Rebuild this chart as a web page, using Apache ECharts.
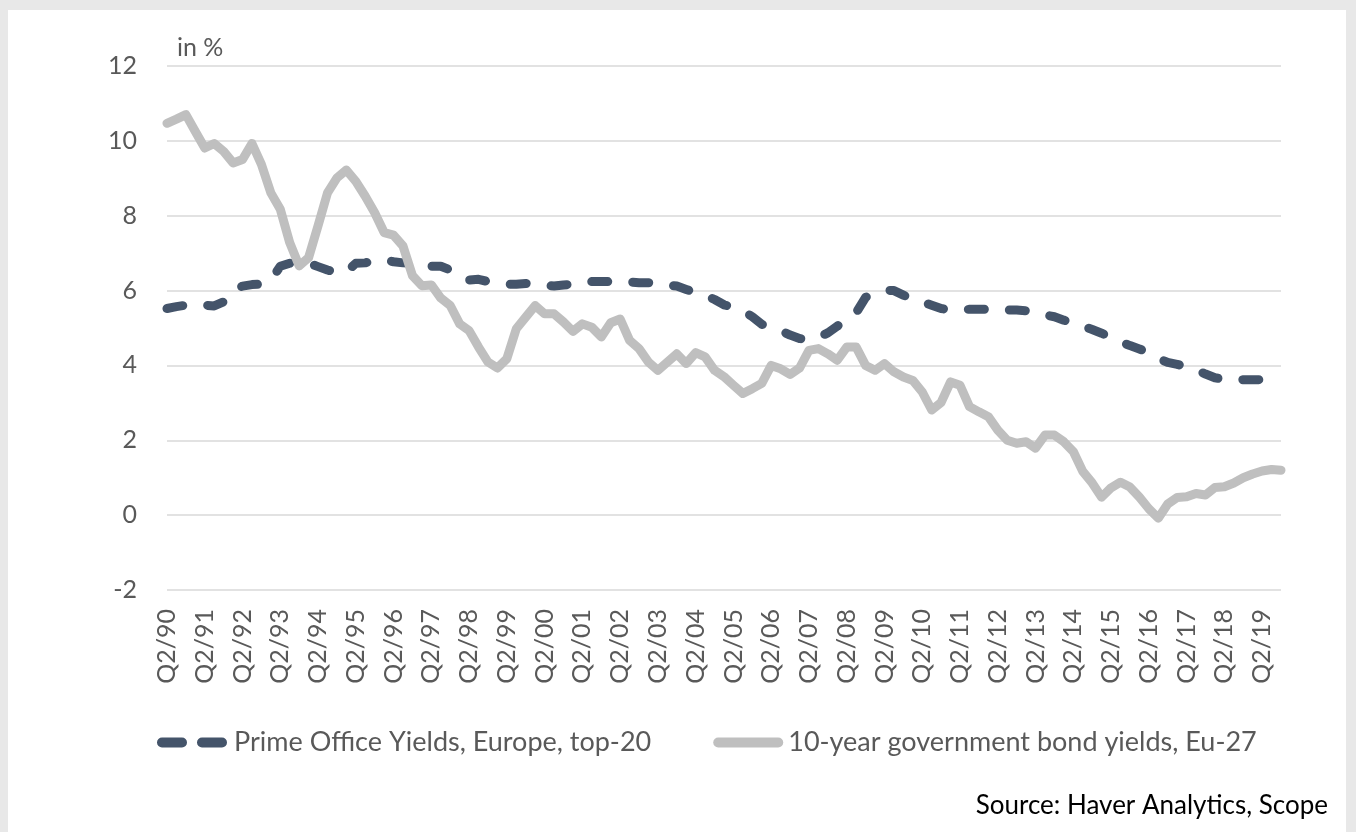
<!DOCTYPE html>
<html>
<head>
<meta charset="utf-8">
<script src="https://cdn.jsdelivr.net/npm/echarts@6/dist/echarts.min.js"></script>
<style>
html,body{margin:0;padding:0;background:#fff;}
#chart{width:1356px;height:832px;}
</style>
</head>
<body>
<div id="chart"></div>
<script>
// Quarterly categories Q2/90 .. Q4/19
const startYear = 1990, startQuarter = 2, nPoints = 119;
const categories = [];
for (let k = 0; k < nPoints; k++) {
  const q = (startQuarter - 1 + k) % 4 + 1;
  const y = startYear + Math.floor((startQuarter - 1 + k) / 4);
  categories.push('Q' + q + '/' + String(y % 100).padStart(2, '0'));
}

const yTicks = [-2, 0, 2, 4, 6, 8, 10, 12];

const primeOffice = [
  5.52,5.57,5.61,5.60,5.61,5.59,5.70,6.00,6.12,6.16,
  6.17,6.28,6.65,6.73,6.73,6.73,6.64,6.55,6.48,6.50,
  6.73,6.74,6.80,6.82,6.77,6.74,6.73,6.71,6.65,6.65,
  6.55,6.39,6.28,6.30,6.24,6.19,6.17,6.17,6.19,6.17,
  6.14,6.12,6.15,6.17,6.22,6.24,6.24,6.24,6.24,6.23,
  6.21,6.21,6.19,6.15,6.12,6.03,5.94,5.88,5.76,5.62,
  5.55,5.46,5.30,5.10,5.01,4.93,4.81,4.72,4.69,4.75,
  4.87,5.05,5.21,5.41,5.82,5.94,6.01,6.00,5.88,5.76,
  5.70,5.61,5.52,5.48,5.48,5.50,5.50,5.50,5.50,5.48,
  5.48,5.46,5.39,5.35,5.30,5.21,5.14,5.05,4.96,4.86,
  4.75,4.63,4.53,4.44,4.34,4.19,4.08,4.03,3.96,3.88,
  3.77,3.67,3.63,3.61,3.62,3.62,3.62,3.62,3.62
];

const govBond = [
  10.47,10.58,10.70,10.25,9.81,9.93,9.72,9.41,9.50,9.93,
  9.37,8.61,8.17,7.28,6.66,6.88,7.73,8.61,9.01,9.22,
  8.92,8.52,8.08,7.55,7.48,7.19,6.40,6.13,6.15,5.80,
  5.60,5.11,4.93,4.49,4.09,3.93,4.18,4.98,5.29,5.60,
  5.38,5.38,5.16,4.91,5.11,5.02,4.76,5.14,5.24,4.67,
  4.45,4.09,3.87,4.09,4.31,4.05,4.34,4.23,3.87,3.70,
  3.47,3.25,3.38,3.52,4.00,3.91,3.76,3.93,4.40,4.45,
  4.31,4.14,4.49,4.49,4.00,3.87,4.05,3.83,3.69,3.60,
  3.29,2.81,3.01,3.56,3.47,2.90,2.76,2.63,2.27,2.00,
  1.92,1.96,1.79,2.14,2.14,1.96,1.70,1.17,0.86,0.48,
  0.73,0.88,0.75,0.48,0.17,-0.08,0.30,0.47,0.49,0.58,
  0.54,0.74,0.76,0.86,1.00,1.10,1.18,1.22,1.20
];

const seriesNames = ['Prime Office Yields, Europe, top-20', '10-year government bond yields, Eu-27'];
const FONT = 'Lato, "Open Sans", sans-serif';
const TXT = '#595959';
const DARK = '#44546A';
const GREY = '#BFBFBF';

const dashIcon = 'path://M5,0 H25 A5,5 0 0 1 25,10 H5 A5,5 0 0 1 5,0 Z M45,0 H65 A5,5 0 0 1 65,10 H45 A5,5 0 0 1 45,0 Z';
const solidIcon = 'path://M5,0 H65 A5,5 0 0 1 65,10 H5 A5,5 0 0 1 5,0 Z';

const chart = echarts.init(document.getElementById('chart'));
chart.setOption({
  backgroundColor: '#ffffff',
  animation: false,
  grid: { left: 167, right: 75, top: 66, bottom: 242, containLabel: false },
  xAxis: {
    type: 'category',
    data: categories,
    boundaryGap: false,
    axisLine: { show: false },
    axisTick: { show: false },
    splitLine: { show: false },
    axisLabel: {
      interval: 3,
      rotate: 90,
      margin: 19,
      color: TXT,
      fontFamily: FONT,
      fontSize: 25
    }
  },
  yAxis: {
    type: 'value',
    min: yTicks[0],
    max: yTicks[yTicks.length - 1],
    interval: 2,
    axisLine: { show: false },
    axisTick: { show: false },
    splitLine: { lineStyle: { color: '#D9D9D9', width: 1.5 } },
    axisLabel: { margin: 30, color: TXT, fontFamily: FONT, fontSize: 25 }
  },
  legend: {
    data: [
      { name: seriesNames[0], icon: dashIcon, itemStyle: { color: DARK }, textStyle: { padding: [0, 0, 0, 2] } },
      { name: seriesNames[1], icon: solidIcon, itemStyle: { color: GREY }, textStyle: { padding: [0, 0, 0, 0] } }
    ],
    left: 152,
    top: 724,
    itemWidth: 70,
    itemHeight: 10,
    itemGap: 62,
    textStyle: { color: TXT, fontFamily: FONT, fontSize: 27 }
  },
  graphic: [
    { type: 'rect', shape: { x: 0, y: 0, width: 1356, height: 10 }, style: { fill: '#E8E8E8' }, silent: true },
    { type: 'rect', shape: { x: 0, y: 0, width: 8, height: 832 }, style: { fill: '#E8E8E8' }, silent: true },
    { type: 'rect', shape: { x: 1346, y: 0, width: 10, height: 832 }, style: { fill: '#E8E8E8' }, silent: true },
    { type: 'text', left: 177, top: 35, style: { text: 'in %', fill: TXT, font: '25px ' + FONT } },
    { type: 'text', right: 28, top: 793, style: { text: 'Source: Haver Analytics, Scope', fill: '#000', font: '26px ' + FONT } }
  ],
  series: [
    {
      name: seriesNames[0],
      type: 'line',
      data: primeOffice,
      symbol: 'none',
      smooth: false,
      lineStyle: { color: DARK, width: 9, type: [16, 25], cap: 'round', join: 'round' },
      itemStyle: { color: DARK },
      z: 2
    },
    {
      name: seriesNames[1],
      type: 'line',
      data: govBond,
      symbol: 'none',
      lineStyle: { color: GREY, width: 9, cap: 'round', join: 'round' },
      itemStyle: { color: GREY },
      z: 3
    }
  ]
});
</script>
</body>
</html>
